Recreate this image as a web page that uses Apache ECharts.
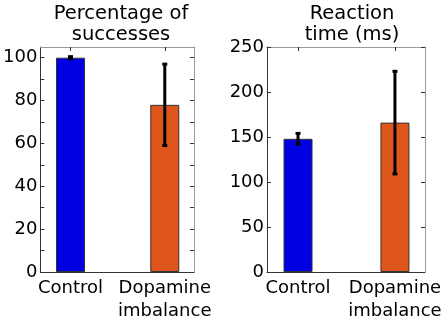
<!DOCTYPE html>
<html>
<head>
<meta charset="utf-8">
<script src="https://cdn.jsdelivr.net/npm/echarts@6/dist/echarts.min.js"></script>
<style>
  html, body { margin: 0; padding: 0; background: #fff; }
  #chart { width: 447px; height: 323px; }
</style>
</head>
<body>
<div id="chart"></div>
<script>
// data
const categories = ['Control', 'Dopamine\nimbalance'];
const catPos = [1, 2];
const successMean = [100, 78];
const successErr = [0.5, 19];
const reactionMean = [148, 166];
const reactionErr = [6, 57];
const barColors = ['#0000e3', '#df561c'];
const successTicks = [0, 20, 40, 60, 80, 100];
const reactionTicks = [0, 50, 100, 150, 200, 250];

const font = 'DejaVu Sans';

function barData(means) {
  return means.map((m, i) => ({
    value: [catPos[i], m],
    itemStyle: { color: barColors[i] }
  }));
}

function errData(means, errs) {
  return means.map((m, i) => [catPos[i], m - errs[i], m + errs[i]]);
}

function renderErr(params, api) {
  const x = api.value(0);
  const lo = api.coord([x, api.value(1)]);
  const hi = api.coord([x, api.value(2)]);
  const style = { stroke: '#000', lineWidth: 3 };
  return {
    type: 'group',
    children: [
      { type: 'line', shape: { x1: lo[0], y1: lo[1], x2: hi[0], y2: hi[1] }, style: style },
      { type: 'line', shape: { x1: lo[0] - 2.5, y1: lo[1], x2: lo[0] + 2.5, y2: lo[1] }, style: style },
      { type: 'line', shape: { x1: hi[0] - 2.5, y1: hi[1], x2: hi[0] + 2.5, y2: hi[1] }, style: style }
    ]
  };
}

function xAxes(gridIndex) {
  return [
    {
      gridIndex: gridIndex, type: 'value', min: 0.68, max: 2.31, position: 'bottom',
      axisLine: { show: true, onZero: false, lineStyle: { color: '#333', width: 1 } },
      axisTick: { show: true, inside: true, length: 4, customValues: catPos, lineStyle: { color: '#333' } },
      axisLabel: {
        customValues: catPos, margin: 5,
        formatter: v => categories[catPos.indexOf(v)] || '',
        color: '#000', fontSize: 18, fontFamily: font, lineHeight: 23
      },
      splitLine: { show: false }
    },
    {
      gridIndex: gridIndex, type: 'value', min: 0.68, max: 2.31, position: 'top',
      axisLine: { show: true, onZero: false, lineStyle: { color: '#999', width: 1 } },
      axisTick: { show: true, inside: true, length: 4, customValues: catPos, lineStyle: { color: '#333' } },
      axisLabel: { show: false },
      splitLine: { show: false }
    }
  ];
}

function yAxes(gridIndex, max, tickVals, minorStep) {
  const ticks = [];
  for (let v = 0; v <= tickVals[tickVals.length - 1]; v += minorStep) ticks.push(v);
  return [
    {
      gridIndex: gridIndex, type: 'value', min: 0, max: max, position: 'left',
      axisLine: { show: true, onZero: false, lineStyle: { color: '#333', width: 1 } },
      axisTick: { show: true, inside: true, length: 4, customValues: ticks, lineStyle: { color: '#333' } },
      axisLabel: { customValues: tickVals, margin: 3, color: '#000', fontSize: 18, fontFamily: font },
      splitLine: { show: false }
    },
    {
      gridIndex: gridIndex, type: 'value', min: 0, max: max, position: 'right',
      axisLine: { show: true, onZero: false, lineStyle: { color: '#999', width: 1 } },
      axisTick: { show: true, inside: true, length: 4, customValues: ticks, lineStyle: { color: '#333' } },
      axisLabel: { show: false },
      splitLine: { show: false }
    }
  ];
}

const titleStyle = { fontSize: 19.5, fontWeight: 'normal', fontFamily: font, color: '#000', lineHeight: 21 };

const chart = echarts.init(document.getElementById('chart'));
chart.setOption({
  animation: false,
  title: [
    { text: 'Percentage of\nsuccesses', left: 116, top: -2, textAlign: 'center', textStyle: titleStyle },
    { text: 'Reaction\ntime (ms)', left: 347, top: -2, textAlign: 'center', textStyle: titleStyle }
  ],
  grid: [
    { left: 37, top: 47, width: 157, height: 226 },
    { left: 267, top: 47, width: 158, height: 226 }
  ],
  xAxis: xAxes(0).concat(xAxes(1)),
  yAxis: yAxes(0, 105, successTicks, 10).concat(yAxes(1, 250, reactionTicks, 50)),
  series: [
    {
      type: 'bar', xAxisIndex: 0, yAxisIndex: 0, barWidth: 29,
      data: barData(successMean),
      itemStyle: { borderColor: '#333', borderWidth: 1 }
    },
    {
      type: 'custom', xAxisIndex: 0, yAxisIndex: 0, z: 5,
      data: errData(successMean, successErr), renderItem: renderErr
    },
    {
      type: 'bar', xAxisIndex: 2, yAxisIndex: 2, barWidth: 29,
      data: barData(reactionMean),
      itemStyle: { borderColor: '#333', borderWidth: 1 }
    },
    {
      type: 'custom', xAxisIndex: 2, yAxisIndex: 2, z: 5,
      data: errData(reactionMean, reactionErr), renderItem: renderErr
    }
  ]
});
</script>
</body>
</html>
